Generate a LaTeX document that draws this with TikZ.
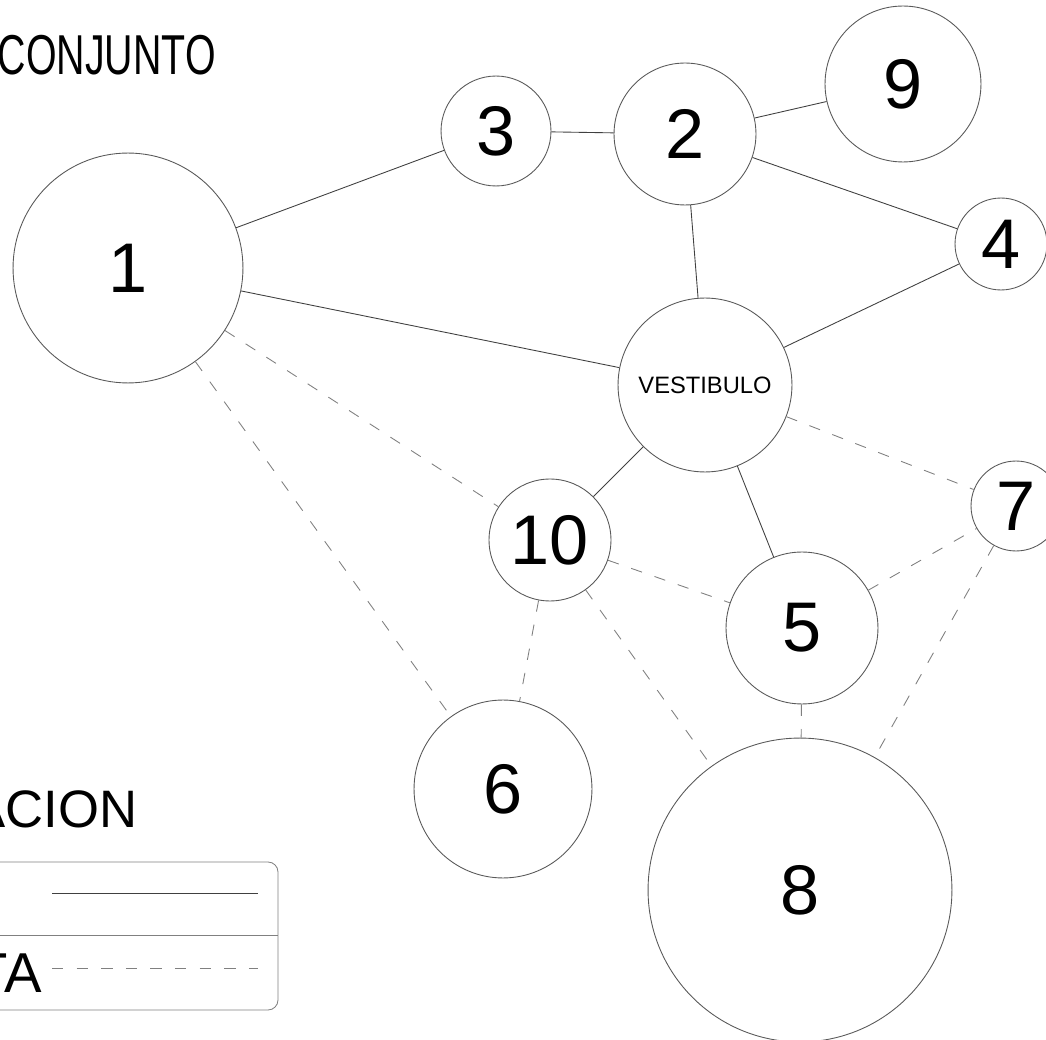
\documentclass[tikz,border=0pt]{standalone}
\usepackage{graphicx}
\usepackage{fontspec}
\setmainfont{Liberation Sans}

\begin{document}
\begin{tikzpicture}[
    x=0.02cm, y=-0.02cm,
    room/.style={
        circle,
        draw=black!65,
        line width=0.5pt,
        fill=white,
        inner sep=0pt,
        minimum size=#1*0.04cm,
        font=\fontsize{40}{40}\selectfont,
    },
    hall/.style={room=#1, font=\fontsize{13.5}{14}\selectfont},
    direct/.style={draw=black!75, line width=0.5pt},
    indirect/.style={draw=black!50, line width=0.5pt, dash pattern=on 6.5pt off 7.5pt},
    title/.style={font=\fontsize{30}{30}\selectfont, anchor=base east, inner sep=0pt},
    frame/.style={draw=black!50, line width=0.5pt}
]
\useasboundingbox (0,0) rectangle (1046,1040);

\node[title, font=\fontsize{32}{32}\selectfont] (tConj) at (216,75) {\scalebox{0.7}[1]{CONJUNTO}};
\node[title] (tRel) at (138,827) {ACION};
\node[title, font=\fontsize{32}{32}\selectfont] (tInd) at (42,992) {TA};

\node[room=115] (R1) at (128,268) {1};
\node[room=55] (R3) at (496,131) {3};
\node[room=71] (R2) at (685,134) {2};
\node[room=78] (R9) at (903,84) {9};
\node[room=46] (R4) at (1001,244) {4};
\node[hall=87] (V) at (705,385) {VESTIBULO};
\node[room=45] (R7) at (1016,506) {7};
\node[room=61] (R10) at (550,540) {10};
\node[room=76] (R5) at (802,628) {5};
\node[room=89] (R6) at (503,789) {6};
\node[room=152] (R8) at (800,890) {8};

\draw[direct] (R1) -- (R3);
\draw[direct] (R3) -- (R2);
\draw[direct] (R2) -- (R9);
\draw[direct] (R2) -- (R4);
\draw[direct] (R2) -- (V);
\draw[direct] (R1) -- (V);
\draw[direct] (R4) -- (V);
\draw[direct] (V) -- (R10);
\draw[direct] (V) -- (R5);

\draw[indirect] (R1) -- (R10);
\draw[indirect] (R1) -- (R6);
\draw[indirect] (V) -- (R7);
\draw[indirect] (R10) -- (R5);
\draw[indirect] (R10) -- (R6);
\draw[indirect] (R10) -- (R8);
\draw[indirect] (R5) -- (R7);
\draw[indirect] (R5) -- (R8);
\draw[indirect] (R7) -- (R8);

\draw[frame, rounded corners=0.2cm] (-30,862) rectangle (278,1010);
\draw[frame] (-30,935) -- (278,935);
\coordinate (dA) at (52,893);
\coordinate (dB) at (258,893);
\coordinate (iA) at (52,968);
\coordinate (iB) at (258,968);
\draw[direct] (dA) -- (dB);
\draw[indirect] (iA) -- (iB);
\end{tikzpicture}
\end{document}
